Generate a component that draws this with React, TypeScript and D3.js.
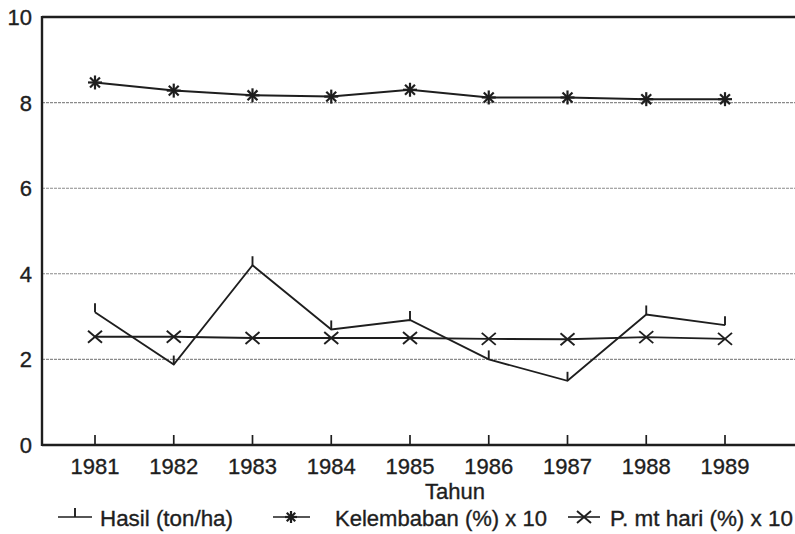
import React from "react";
import * as d3 from "d3";

const years = [1981, 1982, 1983, 1984, 1985, 1986, 1987, 1988, 1989];
const hasil = [3.1, 1.88, 4.2, 2.7, 2.92, 2.0, 1.5, 3.05, 2.8];
const kelembaban = [8.47, 8.28, 8.17, 8.14, 8.3, 8.12, 8.12, 8.08, 8.08];
const pmtHari = [2.53, 2.53, 2.5, 2.5, 2.5, 2.48, 2.47, 2.52, 2.48];
const yTicks = [0, 2, 4, 6, 8, 10];
const gridValues = [2, 4, 6, 8];
const xTitle = "Tahun";
const legendLabels = ["Hasil (ton/ha)", "Kelembaban (%) x 10", "P. mt hari (%) x 10"];

const W = 795;
const H = 534;
const FONT = "'Liberation Sans', Arial, sans-serif";
const INK = "#1e1e1e";

export default function App() {
  const x = d3.scaleLinear().domain([1981, 1989]).range([95, 725]);
  const y = d3.scaleLinear().domain([0, 10]).range([445, 17]);
  const left = 42;
  const right = W;

  const line = d3
    .line<number>()
    .x((_, i) => x(years[i]))
    .y((d) => y(d));

  const star = (cx: number, cy: number, r: number, key: string) => (
    <g key={key} stroke={INK} strokeWidth={2.2}>
      {[0, 45, 90, 135].map((a) => {
        const rad = (a * Math.PI) / 180;
        return (
          <line
            key={a}
            x1={cx - r * Math.cos(rad)}
            y1={cy - r * Math.sin(rad)}
            x2={cx + r * Math.cos(rad)}
            y2={cy + r * Math.sin(rad)}
          />
        );
      })}
    </g>
  );

  const cross = (cx: number, cy: number, key: string) => (
    <g key={key} stroke={INK} strokeWidth={1.9}>
      <line x1={cx - 7} y1={cy - 6} x2={cx + 7} y2={cy + 6} />
      <line x1={cx - 7} y1={cy + 6} x2={cx + 7} y2={cy - 6} />
    </g>
  );

  const tee = (cx: number, cy: number, key: string) => (
    <line key={key} x1={cx} y1={cy} x2={cx} y2={cy - 9} stroke={INK} strokeWidth={1.9} />
  );

  const legY = 517;
  const textProps = { fontSize: 22, fill: INK, stroke: INK, strokeWidth: 0.35 };

  return (
    <svg
      width={W}
      height={H}
      style={{ position: "absolute", left: 0, top: 0, background: "#fff" }}
      fontFamily={FONT}
    >
      {gridValues.map((v) => (
        <line
          key={v}
          x1={left}
          x2={right}
          y1={y(v)}
          y2={y(v)}
          stroke="#8a8a8a"
          strokeWidth={1.1}
          strokeDasharray="3,1"
        />
      ))}
      <line x1={left} x2={right} y1={y(10)} y2={y(10)} stroke={INK} strokeWidth={2.4} />
      <line x1={left} x2={left} y1={y(10) - 1} y2={y(0) + 1} stroke={INK} strokeWidth={2.4} />
      <line x1={left} x2={right} y1={y(0)} y2={y(0)} stroke={INK} strokeWidth={2.4} />
      {years.map((yr) => (
        <g key={yr}>
          <line x1={x(yr)} x2={x(yr)} y1={y(0)} y2={y(0) - 10} stroke={INK} strokeWidth={1.7} />
          <text x={x(yr)} y={474} textAnchor="middle" {...textProps}>
            {yr}
          </text>
        </g>
      ))}
      {yTicks.map((t) => (
        <text key={t} x={32} y={y(t) + 8} textAnchor="end" {...textProps}>
          {t}
        </text>
      ))}
      <text x={455} y={499} textAnchor="middle" {...textProps}>
        {xTitle}
      </text>

      <path d={line(kelembaban) || ""} fill="none" stroke={INK} strokeWidth={2} />
      <path d={line(pmtHari) || ""} fill="none" stroke={INK} strokeWidth={1.9} />
      <path d={line(hasil) || ""} fill="none" stroke={INK} strokeWidth={1.9} />

      {kelembaban.map((v, i) => star(x(years[i]), y(v), 7, "k" + i))}
      {pmtHari.map((v, i) => cross(x(years[i]), y(v), "p" + i))}
      {hasil.map((v, i) => tee(x(years[i]), y(v), "h" + i))}

      <line x1={58} x2={92} y1={legY} y2={legY} stroke={INK} strokeWidth={1.6} />
      {tee(75, legY, "lh")}
      <text x={100} y={legY + 9} {...textProps} textLength={133} lengthAdjust="spacingAndGlyphs">
        {legendLabels[0]}
      </text>

      <line x1={273} x2={310} y1={legY} y2={legY} stroke={INK} strokeWidth={1.6} />
      {star(291, legY, 6, "lk")}
      <text x={335} y={legY + 9} {...textProps} textLength={212} lengthAdjust="spacingAndGlyphs">
        {legendLabels[1]}
      </text>

      <line x1={568} x2={600} y1={legY} y2={legY} stroke={INK} strokeWidth={1.6} />
      {cross(584, legY, "lp")}
      <text x={610} y={legY + 9} {...textProps} textLength={183} lengthAdjust="spacingAndGlyphs">
        {legendLabels[2]}
      </text>
    </svg>
  );
}
